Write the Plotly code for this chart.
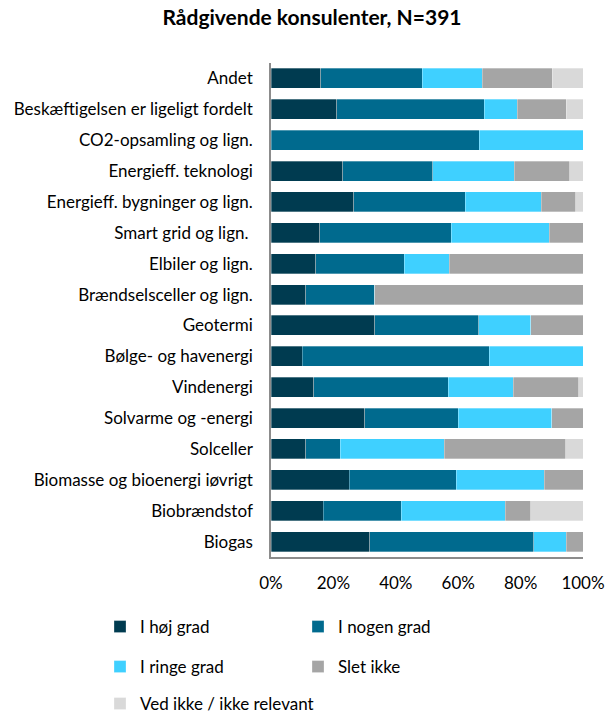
import plotly.graph_objects as go

categories = [
    "Andet",
    "Beskæftigelsen er ligeligt fordelt",
    "CO2-opsamling og lign.",
    "Energieff. teknologi",
    "Energieff. bygninger og lign.",
    "Smart grid og lign. ",
    "Elbiler og lign.",
    "Brændselsceller og lign.",
    "Geotermi",
    "Bølge- og havenergi",
    "Vindenergi",
    "Solvarme og -energi",
    "Solceller",
    "Biomasse og bioenergi iøvrigt",
    "Biobrændstof",
    "Biogas",
]

series_names = ["I høj grad", "I nogen grad", "I ringe grad", "Slet ikke", "Ved ikke / ikke relevant"]

hoej = [16.0, 21.1, 0.0, 23.0, 26.6, 15.6, 14.3, 11.1, 33.3, 10.0, 13.7, 30.0, 11.1, 25.0, 16.7, 31.6]
nogen = [32.4, 47.2, 66.7, 28.8, 35.6, 42.2, 28.4, 22.2, 33.3, 60.0, 43.1, 30.0, 11.1, 34.4, 25.0, 52.6]
ringe = [19.3, 10.7, 33.3, 26.2, 24.4, 31.4, 14.5, 0.0, 16.7, 30.0, 20.9, 30.0, 33.3, 28.1, 33.3, 10.5]
slet = [22.4, 15.6, 0.0, 17.8, 11.0, 10.8, 42.8, 66.7, 16.7, 0.0, 20.9, 10.0, 38.9, 12.5, 8.3, 5.3]
vedikke = [9.9, 5.4, 0.0, 4.2, 2.4, 0.0, 0.0, 0.0, 0.0, 0.0, 1.4, 0.0, 5.6, 0.0, 16.7, 0.0]

title_text = "Rådgivende konsulenter, N=391"
x_ticks = [0, 20, 40, 60, 80, 100]
x_ticklabels = ["0%", "20%", "40%", "60%", "80%", "100%"]

colors = ["#003B50", "#006A8E", "#3FD0FF", "#A5A5A5", "#D9D9D9"]
legend_ids = ["legend", "legend", "legend2", "legend2", "legend3"]

FONT = "Lato"
FS = 17

fig = go.Figure()
for name, vals, col, lg in zip(series_names, [hoej, nogen, ringe, slet, vedikke], colors, legend_ids):
    fig.add_trace(go.Bar(
        y=categories, x=vals, name=name, orientation="h",
        marker=dict(color=col, line=dict(color="rgba(255,255,255,0.6)", width=0.5)),
        legend=lg,
    ))

leg_common = dict(
    orientation="h", xanchor="left", yanchor="middle",
    font=dict(family=FONT, size=FS, color="#000000"),
    itemwidth=30, traceorder="normal",
    bgcolor="rgba(0,0,0,0)",
)

LX = -0.548
fig.update_layout(
    width=606, height=715,
    barmode="stack", bargap=0.35,
    plot_bgcolor="white", paper_bgcolor="white",
    margin=dict(l=271, r=23, t=63, b=158, autoexpand=False),
    title=dict(text=f"<b>{title_text}</b>", x=312 / 606, xanchor="center",
               y=1 - 18 / 715, yanchor="middle", yref="container",
               font=dict(family=FONT, size=21, color="#000000")),
    font=dict(family=FONT, size=FS, color="#000000"),
    legend=dict(x=LX, y=-0.1417, entrywidth=153, entrywidthmode="pixels", **leg_common),
    legend2=dict(x=LX, y=-0.2227, entrywidth=153, entrywidthmode="pixels", **leg_common),
    legend3=dict(x=LX, y=-0.2976, **leg_common),
    xaxis=dict(range=[0, 100], tickvals=x_ticks, ticktext=x_ticklabels, showgrid=False,
               showline=True, linecolor="#8C8C8C", linewidth=1.5, ticks="", zeroline=False,
               automargin=False, ticklabelstandoff=10, tickfont=dict(family=FONT, size=FS)),
    yaxis=dict(categoryorder="array", categoryarray=categories[::-1], showgrid=False,
               showline=True, linecolor="#8C8C8C", linewidth=1.5, ticks="",
               automargin=False, ticklabelstandoff=13, tickfont=dict(family=FONT, size=FS)),
)

fig.write_html("out.html", config={"displayModeBar": False},
               post_script="document.body.style.margin='0px';")
